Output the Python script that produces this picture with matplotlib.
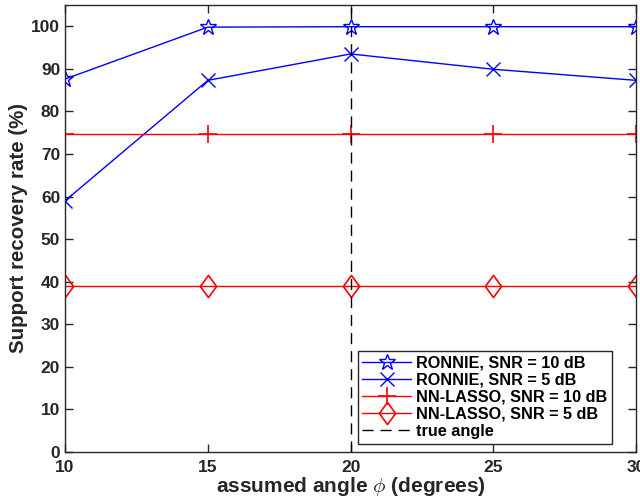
import matplotlib
matplotlib.use("Agg")
import matplotlib.pyplot as plt

plt.rcParams['font.family'] = ['Liberation Sans', 'DejaVu Sans']
plt.rcParams['font.weight'] = 'bold'
plt.rcParams['mathtext.fontset'] = 'cm'

# data
angles = [10, 15, 20, 25, 30]
ronnie_10 = [87.6, 99.8, 99.9, 99.9, 99.9]
ronnie_5 = [59.0, 87.3, 93.5, 89.9, 87.3]
lasso_10 = [74.7, 74.7, 74.7, 74.7, 74.7]
lasso_5 = [38.9, 38.9, 38.9, 38.9, 38.9]
true_angle = 20
labels = ['RONNIE, SNR = 10 dB', 'RONNIE, SNR = 5 dB',
          'NN-LASSO, SNR = 10 dB', 'NN-LASSO, SNR = 5 dB', 'true angle']

# slightly narrow diamond like the MATLAB one
diamond = [(-0.73, 0), (0, 1), (0.73, 0), (0, -1), (-0.73, 0)]

fig = plt.figure(figsize=(6.4, 4.99), dpi=100)
ax = fig.add_axes([0.1016, 0.0942, 0.8924, 0.8958])

ax.plot(angles, ronnie_10, color='blue', lw=1, marker='*', ms=12,
        mfc='none', mew=1, label=labels[0])
ax.plot(angles, ronnie_5, color='blue', lw=1, marker='x', ms=10,
        mew=1, label=labels[1])
ax.plot(angles, lasso_10, color='red', lw=1, marker='+', ms=13,
        mew=1.2, label=labels[2])
ax.plot(angles, lasso_5, color='red', lw=1, marker=diamond, ms=16,
        mfc='none', mew=1.2, label=labels[3])
ax.axvline(true_angle, color='black', lw=1, ls=(0, (8, 5)), label=labels[4])

ax.set_xlim(10, 30)
ax.set_ylim(0, 105)
ax.set_xticks([10, 15, 20, 25, 30])
ax.set_yticks(range(0, 101, 10))
ax.tick_params(direction='in', top=True, right=True, length=6,
               labelsize=12.5, colors='#262626', width=1)
ax.tick_params(axis='x', pad=6)
for s in ax.spines.values():
    s.set_color('#262626')
    s.set_linewidth(1)

ax.set_xlabel(r'assumed angle $\phi$ (degrees)', fontsize=15,
              fontweight='bold', color='#262626', labelpad=0)
ax.set_ylabel('Support recovery rate (%)', fontsize=14.8,
              fontweight='bold', color='#262626', labelpad=2)

leg = ax.legend(loc='lower right', bbox_to_anchor=(0.958, 0.018),
                fontsize=11.7, fancybox=False, edgecolor='#262626',
                framealpha=1, handlelength=3.0, handletextpad=0.3,
                labelspacing=0.13, borderpad=0.3, borderaxespad=0)
leg.get_frame().set_linewidth(1)
for t in leg.get_texts():
    t.set_color('black')

fig.savefig('out.png', dpi=100)
